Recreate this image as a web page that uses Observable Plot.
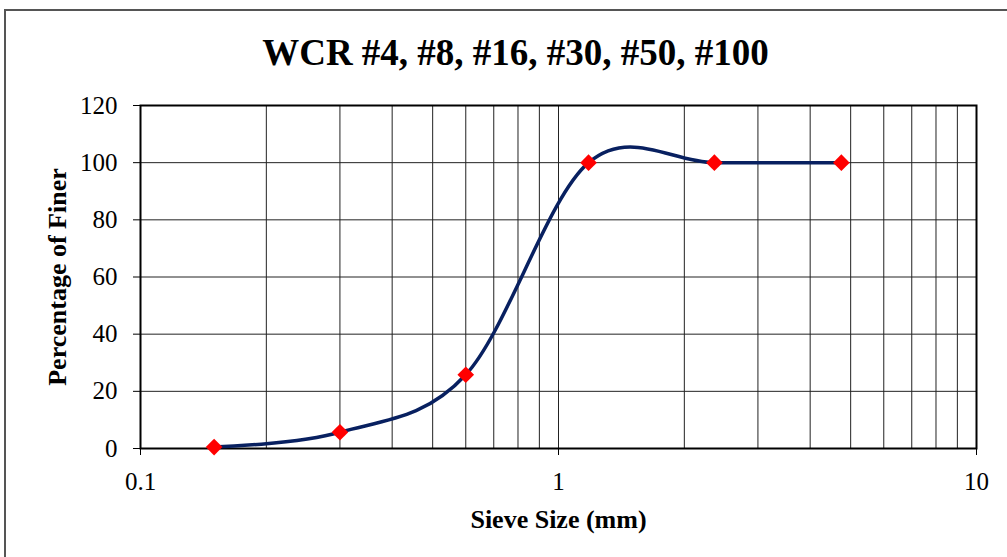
<!DOCTYPE html>
<html><head><meta charset="utf-8">
<script src="https://cdn.jsdelivr.net/npm/d3@7"></script>
<script src="https://cdn.jsdelivr.net/npm/@observablehq/plot@0.6"></script>
<style>
body{margin:0;background:#fff}
#wrap{position:relative;width:1007px;height:557px;overflow:hidden;background:#fff}
#border{position:absolute;left:4px;top:9px;width:1100px;height:700px;border:2px solid #555;box-sizing:border-box;pointer-events:none}
#chart{position:absolute;left:0;top:0}
</style></head>
<body><div id="wrap"><div id="chart"></div><div id="border"></div></div>
<script>
const title = "WCR #4, #8, #16, #30, #50, #100";
const xLabel = "Sieve Size (mm)";
const yLabel = "Percentage of Finer";
const sieveSize = [0.15, 0.3, 0.6, 1.18, 2.36, 4.75];
const percentFiner = [0.5, 5.7, 25.8, 100, 100, 100];
const xTicks = [0.1, 1, 10];
const xTickLabels = ["0.1", "1", "10"];
const yTicks = [0, 20, 40, 60, 80, 100, 120];
const xGrid = [0.2, 0.3, 0.4, 0.5, 0.6, 0.7, 0.8, 0.9, 1, 2, 3, 4, 5, 6, 7, 8, 9];

const data = sieveSize.map((s, i) => ({size: s, pct: percentFiner[i]}));

const chart = Plot.plot({
  width: 1007,
  height: 557,
  marginLeft: 140,
  marginRight: 31,
  marginTop: 105,
  marginBottom: 109,
  style: {fontFamily: "'Liberation Serif', 'Times New Roman', serif", fontSize: "25px", color: "black", background: "transparent"},
  x: {type: "log", domain: [0.1, 10]},
  y: {domain: [0, 120]},
  marks: [
    Plot.ruleX(xGrid, {stroke: "#222", strokeWidth: 1}),
    Plot.ruleY(yTicks, {stroke: "#222", strokeWidth: 1}),
    Plot.frame({stroke: "black", strokeWidth: 2}),
    Plot.line(data, {x: "size", y: "pct", curve: "cardinal", stroke: "#082060", strokeWidth: 3.5}),
    Plot.dot(data, {x: "size", y: "pct", symbol: "diamond2", r: 7.5, fill: "#ff0000", stroke: "none"}),
    Plot.axisY({ticks: yTicks, tickSize: 7, tickPadding: 16, label: null, stroke: "black", fill: "black", fontSize: 25}),
    Plot.axisX({ticks: xTicks, tickFormat: (d) => xTickLabels[xTicks.indexOf(d)], tickSize: 7, tickPadding: 17, label: null, stroke: "black", fill: "black", fontSize: 25}),
    Plot.text([title], {frameAnchor: "top", textAnchor: "middle", lineAnchor: "middle", dx: -43, dy: -52.5, fontSize: 37, fontWeight: "bold", fill: "black"}),
    Plot.text([xLabel], {frameAnchor: "bottom", textAnchor: "middle", lineAnchor: "middle", dx: 0, dy: 70.7, fontSize: 26, fontWeight: "bold", fill: "black"}),
    Plot.text([yLabel], {frameAnchor: "left", textAnchor: "middle", lineAnchor: "middle", dx: -83, dy: 0, rotate: -90, fontSize: 26, fontWeight: "bold", fill: "black"})
  ]
});
document.getElementById("chart").appendChild(chart);
</script>
</body></html>
